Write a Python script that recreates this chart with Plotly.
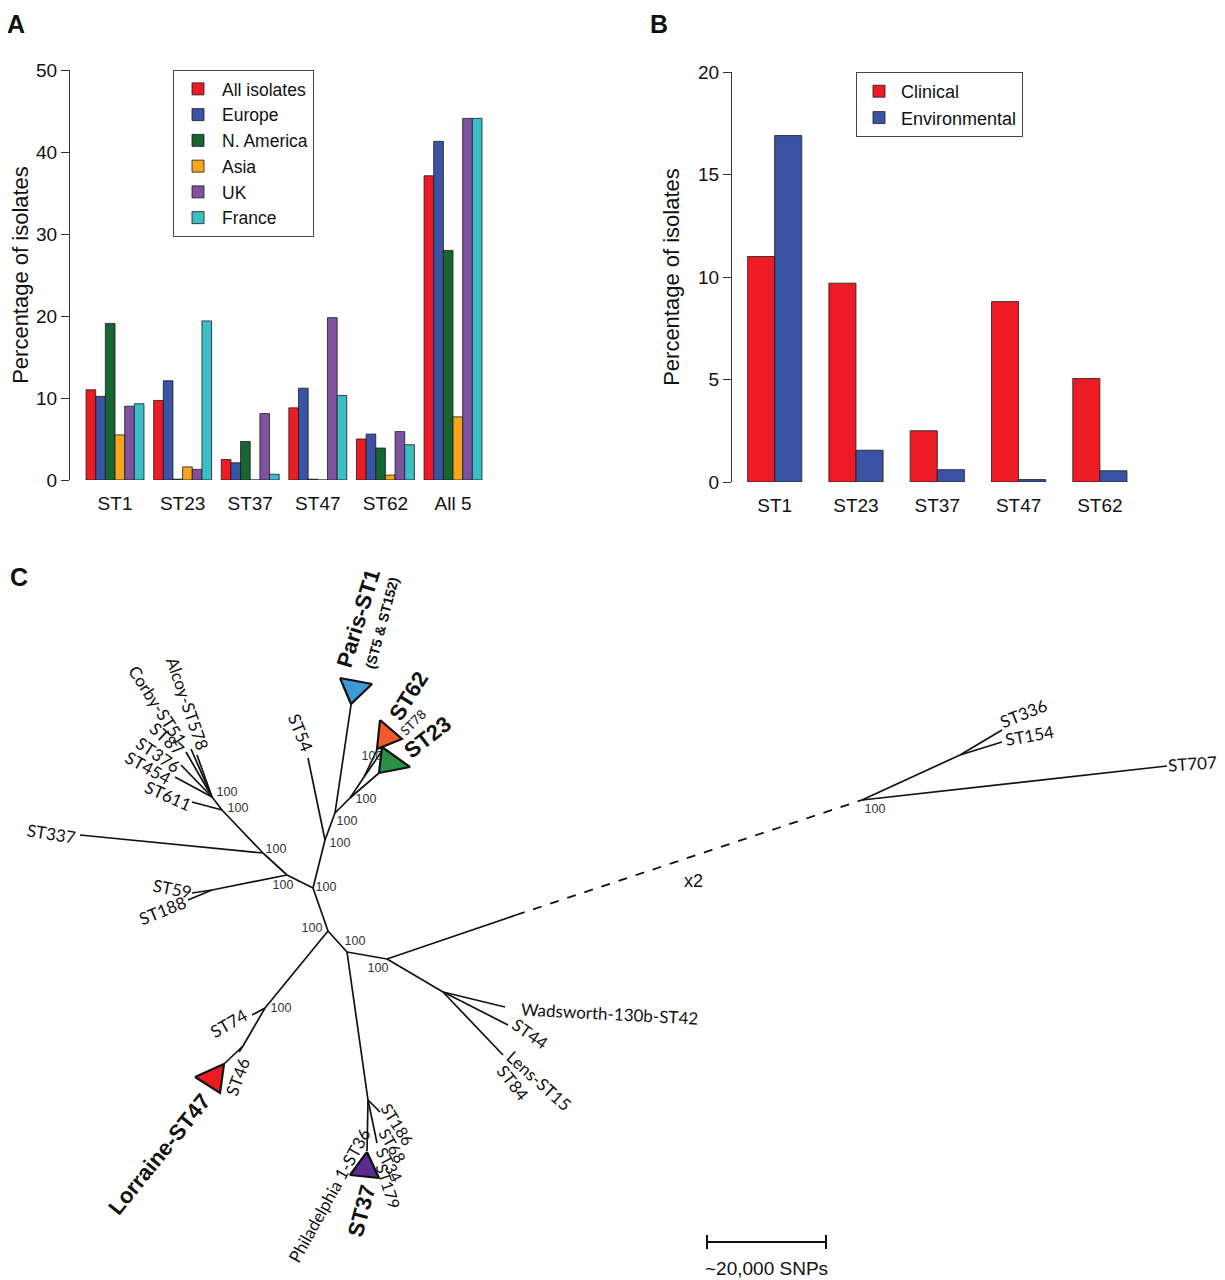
import plotly.graph_objects as go

W, H = 1225, 1280
# the page adds a small body margin around the figure; positions below are in
# reference-picture pixels and are shifted back by this amount
OX, OY = 8, 8

# ---------------- Panel A data ----------------
a_categories = ["ST1", "ST23", "ST37", "ST47", "ST62", "All 5"]
a_series_names = ["All isolates", "Europe", "N. America", "Asia", "UK", "France"]
a_all_isolates = [11.0, 9.7, 2.5, 8.8, 5.0, 37.1]
a_europe = [10.2, 12.1, 2.1, 11.2, 5.6, 41.3]
a_n_america = [19.1, 0.1, 4.7, 0.1, 3.9, 28.0]
a_asia = [5.5, 1.6, 0.0, 0.0, 0.6, 7.7]
a_uk = [9.0, 1.3, 8.1, 19.8, 5.9, 44.1]
a_france = [9.3, 19.4, 0.7, 10.3, 4.3, 44.1]
a_colors = ["#ED1C24", "#3A53A4", "#166533", "#F6A61E", "#7F52A1", "#3BBEC6"]
a_yticks = [0, 10, 20, 30, 40, 50]

# ---------------- Panel B data ----------------
b_categories = ["ST1", "ST23", "ST37", "ST47", "ST62"]
b_series_names = ["Clinical", "Environmental"]
b_clinical = [11.0, 9.7, 2.5, 8.8, 5.05]
b_environmental = [16.9, 1.55, 0.6, 0.12, 0.55]
b_colors = ["#ED1C24", "#3A53A4"]
b_yticks = [0, 5, 10, 15, 20]

# ---------------- Panel C data (tree, drawn in pixel-like units) ----------------
node_names = ["A", "B", "s59", "C", "D", "E", "K", "L", "M", "N", "F", "P", "Q",
              "G", "Hn", "I", "J", "J2", "dash0", "R", "R2",
              "tST59", "tST188", "tST337", "tST611", "tST454", "tST376", "tST87",
              "tCorby", "tAlcoy", "tST54", "tParis", "tST62", "tST78", "tST23",
              "tST74", "tST46", "tLorraine", "tST37", "tST186", "tST68",
              "tWads", "tST44", "tLens", "tST336", "tST154", "tST707"]
node_x = [313, 287, 212, 263, 222, 212, 325, 335, 350, 364, 328, 265, 243,
          347, 368, 387, 443, 461, 516, 862, 960,
          192, 188, 80, 192, 175, 181, 186,
          191, 197, 308, 351, 377, 384, 379,
          252, 239, 224, 367, 380, 377,
          505, 508, 503, 1002, 1002, 1167]
node_y = [888, 875, 890, 853, 810, 797, 840, 813, 798, 777, 931, 1008, 1046,
          952, 1100, 959, 992, 1001, 915, 800, 755,
          893, 900, 835, 802, 777, 765, 752,
          749, 755, 758, 705, 750, 748, 773,
          1015, 1052, 1064, 1151, 1112, 1143,
          1007, 1025, 1055, 730, 742, 766]
edges_solid = [("F", "A"), ("A", "B"), ("B", "s59"), ("s59", "tST59"), ("s59", "tST188"),
               ("B", "C"), ("C", "tST337"), ("C", "D"), ("D", "tST611"), ("D", "E"),
               ("E", "tST454"), ("E", "tST376"), ("E", "tST87"), ("E", "tCorby"), ("E", "tAlcoy"),
               ("A", "K"), ("K", "tST54"), ("K", "L"), ("L", "tParis"), ("L", "M"),
               ("M", "N"), ("N", "tST62"), ("N", "tST78"), ("M", "tST23"),
               ("F", "P"), ("P", "tST74"), ("P", "Q"), ("Q", "tST46"), ("Q", "tLorraine"),
               ("F", "G"), ("G", "Hn"), ("Hn", "tST37"), ("Hn", "tST186"), ("Hn", "tST68"),
               ("G", "I"), ("I", "J"), ("J", "tWads"), ("J", "J2"), ("J2", "tST44"), ("J", "tLens"),
               ("I", "dash0"), ("R", "R2"), ("R2", "tST336"), ("R2", "tST154"), ("R", "tST707")]
edges_dashed = [("dash0", "R")]

# collapsed clades (triangles)
clade_names = ["Paris", "ST62", "ST23", "Lorraine", "ST37"]
clade_x = [[340, 372, 351], [380, 402, 377], [382, 410, 379], [195, 224, 220], [367, 350, 379]]
clade_y = [[678, 684, 704], [720, 739, 749], [747, 767, 773], [1077, 1064, 1093], [1152, 1175, 1178]]
clade_colors = ["#3B9BD9", "#F15A29", "#2A9048", "#ED1C24", "#5B2C8F"]

# bootstrap support values
boot_text = ["100"] * 14
boot_x = [227, 238, 276, 283, 326, 340, 347, 366, 372, 312, 355, 378, 281, 875]
boot_y = [793, 809, 850, 886, 888, 844, 822, 800, 757, 929, 942, 969, 1009, 810]

# tip labels: text, x, y, angle, size, bold
lab_text = ["Alcoy-ST578", "Corby-ST51", "ST87", "ST376", "ST454", "ST611", "ST337",
            "ST59", "ST188", "ST54", "Paris-ST1", "(ST5 & ST152)", "ST62", "ST78", "ST23",
            "ST336", "ST154", "ST707", "x2", "Wadsworth-130b-ST42", "ST44", "Lens-ST15",
            "ST84", "ST74", "ST46", "Lorraine-ST47", "Philadelphia 1-ST36", "ST37",
            "ST186", "ST68", "ST34", "ST179"]
lab_x = [188, 158, 167, 158, 148, 168, 51,
         172, 162, 301, 358, 382, 408, 413, 427,
         1023, 1029, 1192, 693, 609, 530, 539,
         513, 228, 237, 159, 329, 361,
         398, 393, 390, 389]
lab_y = [703, 705, 738, 754, 767, 795, 833,
         888, 910, 732, 618, 623, 696, 722, 737,
         713, 735, 763, 881, 1013, 1033, 1080,
         1082, 1023, 1077, 1154, 1195, 1211,
         1124, 1145, 1164, 1186]
lab_angle = [71, 57, 42, 34, 29, 24, 9,
             11, -22, 68, -73, -75, -58, -45, -38,
             -22, -10, -4, 0, 3, 35, 42,
             52, -30, -70, -51, -61, -75,
             58, 60, 62, 72]
lab_size = [17, 17, 17, 17, 17, 17, 17,
            17, 17, 17, 22, 14, 22, 13, 22,
            17, 17, 17, 18, 17, 17, 17,
            17, 17, 17, 22, 17, 22,
            16, 16, 16, 16]
lab_bold = [False] * 10 + [True, True, True, False, True] + [False] * 10 + [True, False, True] + [False] * 4

# scale bar
scale_x = [707, 826]
scale_y = [1242, 1242]
scale_label = "~20,000 SNPs"

panel_letters = ["A", "B", "C"]
panel_x = [16, 659, 19]
panel_top = [8, 8, 561]

# ---------------- figure ----------------
fig = go.Figure()

def px2paper_x(p):
    return (p - OX) / W

def px2paper_y(p):
    return 1 - (p - OY) / H

a_values = [a_all_isolates, a_europe, a_n_america, a_asia, a_uk, a_france]
nA = len(a_values)
wA = 1.0 / (nA + 1)
for j, (name, vals, col) in enumerate(zip(a_series_names, a_values, a_colors)):
    fig.add_trace(go.Bar(
        x=list(range(len(a_categories))), y=vals, name=name,
        width=wA, offset=-nA * wA / 2 + j * wA,
        marker=dict(color=col, line=dict(color="#1a1a1a", width=0.8)),
        xaxis="x", yaxis="y", legend="legend", legendgroup=name,
    ))

b_values = [b_clinical, b_environmental]
nB = len(b_values)
wB = 1.0 / (nB + 1)
for j, (name, vals, col) in enumerate(zip(b_series_names, b_values, b_colors)):
    fig.add_trace(go.Bar(
        x=list(range(len(b_categories))), y=vals, name=name,
        width=wB, offset=-nB * wB / 2 + j * wB,
        marker=dict(color=col, line=dict(color="#1a1a1a", width=0.8)),
        xaxis="x2", yaxis="y2", legend="legend2", legendgroup=name,
    ))

# tree edges
pos = {n: (x, y) for n, x, y in zip(node_names, node_x, node_y)}
ex, ey = [], []
for a, b in edges_solid:
    ex += [pos[a][0], pos[b][0], None]
    ey += [pos[a][1], pos[b][1], None]
fig.add_trace(go.Scatter(x=ex, y=ey, mode="lines", line=dict(color="#111", width=1.7),
                         xaxis="x3", yaxis="y3", showlegend=False, hoverinfo="skip"))
dx, dy = [], []
for a, b in edges_dashed:
    dx += [pos[a][0], pos[b][0], None]
    dy += [pos[a][1], pos[b][1], None]
fig.add_trace(go.Scatter(x=dx, y=dy, mode="lines", line=dict(color="#111", width=1.8, dash="dash"),
                         xaxis="x3", yaxis="y3", showlegend=False, hoverinfo="skip"))

# bootstrap values
fig.add_trace(go.Scatter(x=boot_x, y=boot_y, text=boot_text, mode="text",
                         textfont=dict(family="Liberation Sans", size=12.5, color="#333"),
                         xaxis="x3", yaxis="y3", showlegend=False, hoverinfo="skip"))

# clades
for name, cx, cy, col in zip(clade_names, clade_x, clade_y, clade_colors):
    fig.add_trace(go.Scatter(x=cx + [cx[0]], y=cy + [cy[0]], mode="lines", fill="toself",
                             fillcolor=col, line=dict(color="#111", width=2.2),
                             xaxis="x3", yaxis="y3", showlegend=False, hoverinfo="skip"))

# scale bar
fig.add_trace(go.Scatter(x=scale_x, y=scale_y, mode="lines+markers",
                         line=dict(color="#111", width=2),
                         marker=dict(symbol="line-ns", size=10, line=dict(color="#111", width=2)),
                         xaxis="x3", yaxis="y3", showlegend=False, hoverinfo="skip"))

annotations = []
for t, x, y, ang, sz, bd in zip(lab_text, lab_x, lab_y, lab_angle, lab_size, lab_bold):
    fam = "Liberation Sans" if (bd or t == "x2") else "Lato"
    annotations.append(dict(
        text=t, x=x, y=y, xref="x3", yref="y3", showarrow=False, textangle=ang,
        xanchor="center", yanchor="middle",
        font=dict(family=fam, size=sz, color="#111", weight="bold" if bd else "normal"),
    ))
annotations.append(dict(text=scale_label, x=sum(scale_x) / 2, y=1268, xref="x3", yref="y3",
                        showarrow=False, font=dict(family="Liberation Sans", size=19, color="#111")))
for t, x, y in zip(panel_letters, panel_x, panel_top):
    annotations.append(dict(text=t, x=px2paper_x(x), y=px2paper_y(y), xref="paper", yref="paper",
                            showarrow=False, xanchor="center", yanchor="top",
                            font=dict(family="Liberation Sans", size=25, color="#111", weight="bold")))

yaxis_common = dict(showline=True, linecolor="#333", linewidth=1, ticks="outside", ticklen=8,
                    tickcolor="#333", tickwidth=1, showgrid=False, zeroline=False, automargin=False,
                    tickfont=dict(family="Liberation Sans", size=19, color="#111"))
xaxis_common = dict(showline=False, ticks="", showgrid=False, zeroline=False, automargin=False,
                    ticklabelstandoff=10,
                    tickfont=dict(family="Liberation Sans", size=19, color="#111"))

fig.update_layout(
    width=W, height=H, margin=dict(l=0, r=0, t=0, b=0, autoexpand=False),
    paper_bgcolor="white", plot_bgcolor="rgba(0,0,0,0)",
    barmode="overlay",
    xaxis=dict(domain=[px2paper_x(70), px2paper_x(500)], range=[-0.666, -0.666 + 430 / 67.6],
               tickmode="array", tickvals=list(range(len(a_categories))), ticktext=a_categories,
               anchor="y", **xaxis_common),
    yaxis=dict(domain=[px2paper_y(480), px2paper_y(70)], range=[0, 50], tickmode="array",
               tickvals=a_yticks, anchor="x",
               title=dict(text="Percentage of isolates", standoff=12,
                          font=dict(family="Liberation Sans", size=22, color="#111")),
               **yaxis_common),
    xaxis2=dict(domain=[px2paper_x(732), px2paper_x(1160)], range=[-0.525, -0.525 + 428 / 81.3],
                tickmode="array", tickvals=list(range(len(b_categories))), ticktext=b_categories,
                anchor="y2", **xaxis_common),
    yaxis2=dict(domain=[px2paper_y(482), px2paper_y(72)], range=[0, 20], tickmode="array",
                tickvals=b_yticks, anchor="x2",
                title=dict(text="Percentage of isolates", standoff=12,
                           font=dict(family="Liberation Sans", size=22, color="#111")),
                **yaxis_common),
    xaxis3=dict(domain=[0, 1], range=[OX, W + OX], visible=False, anchor="y3", automargin=False),
    yaxis3=dict(domain=[0, px2paper_y(545)], range=[H + OY, 545], visible=False, anchor="x3",
                automargin=False),
    legend=dict(x=px2paper_x(173), y=px2paper_y(70), xanchor="left", yanchor="top",
                bordercolor="#444", borderwidth=1, bgcolor="white", traceorder="normal",
                itemwidth=38,
                font=dict(family="Liberation Sans", size=17.5, color="#111"), tracegroupgap=0),
    legend2=dict(x=px2paper_x(856), y=px2paper_y(72), xanchor="left", yanchor="top",
                 bordercolor="#444", borderwidth=1, bgcolor="white", traceorder="normal",
                 itemwidth=34,
                 font=dict(family="Liberation Sans", size=18, color="#111"), tracegroupgap=2),
    annotations=annotations,
)

fig.write_html("out.html")
